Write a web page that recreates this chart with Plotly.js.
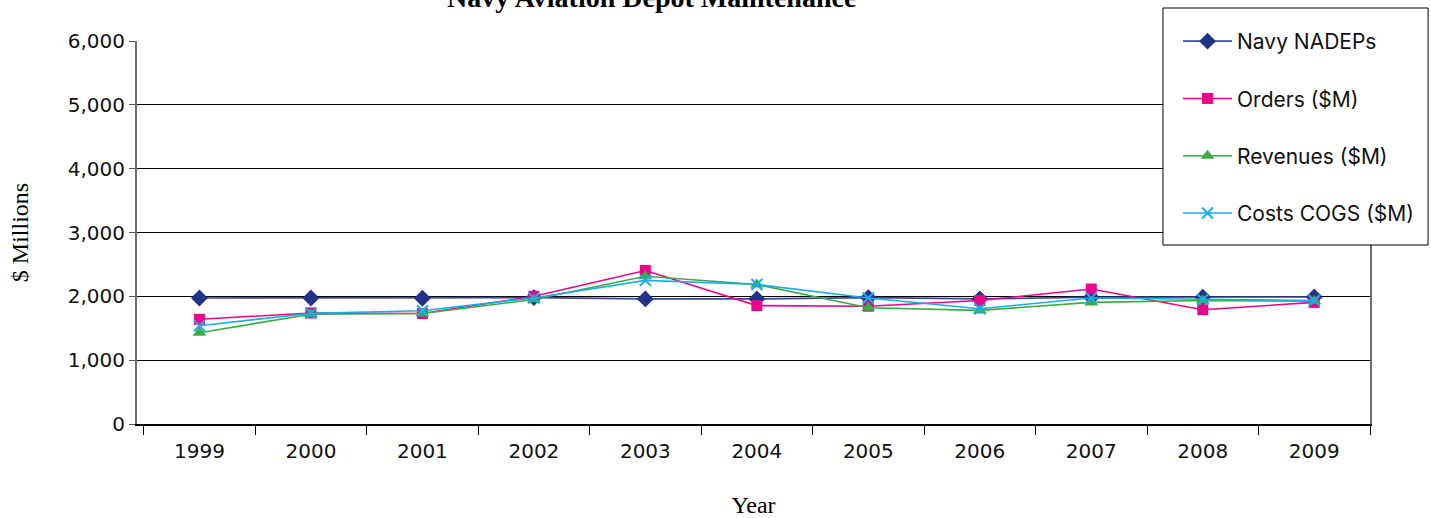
<!DOCTYPE html>
<html>
<head>
<meta charset="utf-8">
<script src="https://cdn.plot.ly/plotly-3.0.1.min.js"></script>
<style>html,body{margin:0;padding:0;background:#fff;}#chart{width:1431px;height:518px;}</style>
</head>
<body>
<div id="chart"></div>
<script>
const years = ['1999','2000','2001','2002','2003','2004','2005','2006','2007','2008','2009'];
const navyNadeps = [1975, 1975, 1970, 1980, 1960, 1960, 1980, 1960, 1985, 1985, 1990];
const orders = [1640, 1740, 1730, 2000, 2405, 1855, 1845, 1935, 2115, 1790, 1905];
const revenues = [1430, 1720, 1730, 1950, 2315, 2185, 1820, 1780, 1905, 1935, 1925];
const costs = [1540, 1735, 1775, 1975, 2250, 2185, 1975, 1805, 1975, 1950, 1935];
const seriesNames = ['Navy NADEPs', 'Orders ($M)', 'Revenues ($M)', 'Costs COGS ($M)'];
const chartTitle = 'Navy Aviation Depot Maintenance';

const mk = (name, y, color, symbol, size, lineColor, group) => ({
  type: 'scatter', mode: 'lines+markers', x: years, y: y, name: name,
  legendgroup: group,
  line: {color: lineColor, width: 1.6},
  marker: {color: color, symbol: symbol, size: size, line: {width: symbol === 'x-thin' ? 2 : 0, color: color}}
});

const traces = [
  mk(seriesNames[0], navyNadeps, '#233189', 'diamond', 13, '#3a4a98', 'a'),
  mk(seriesNames[1], orders, '#E8068C', 'square', 11, '#E8068C', 'b'),
  mk(seriesNames[2], revenues, '#3DAA48', 'triangle-up', 12, '#3DAA48', 'c'),
  mk(seriesNames[3], costs, '#1AADE6', 'x-thin', 11, '#1AADE6', 'd')
];

const layout = {
  width: 1431, height: 518,
  paper_bgcolor: '#ffffff', plot_bgcolor: '#ffffff',
  margin: {l: 137, r: 61, t: 41, b: 94, autoexpand: false},
  annotations: [{
    text: '<b>' + chartTitle + '</b>', showarrow: false,
    xref: 'paper', yref: 'paper', x: 0.4169, y: 1.1123, xanchor: 'center', yanchor: 'middle',
    font: {family: 'Liberation Serif', size: 28, color: '#000'}
  }],
  shapes: [{
    type: 'rect', xref: 'paper', yref: 'paper', layer: 'above',
    x0: 0.8321, x1: 1.0471, y0: 0.4674, y1: 1.0862,
    fillcolor: '#ffffff', line: {color: '#000', width: 1}
  }],
  xaxis: {
    type: 'category', range: [-0.56, 10.5], tickson: 'boundaries', ticks: 'outside', ticklen: 9, tickcolor: '#000', tickwidth: 1,
    showline: true, linecolor: '#000', linewidth: 1.5, showgrid: false, ticklabelstandoff: 8,
    tickfont: {family: 'DejaVu Sans', size: 20, color: '#111'},
    title: {text: 'Year', font: {family: 'Liberation Serif', size: 24, color: '#000'}, standoff: 43}
  },
  yaxis: {
    range: [0, 6000], dtick: 1000, tickformat: ',d', ticks: 'outside', ticklen: 6, tickcolor: '#555',
    showline: true, mirror: true, linecolor: '#707070', linewidth: 2,
    showgrid: true, gridcolor: '#000', gridwidth: 1, zeroline: false,
    tickfont: {family: 'DejaVu Sans', size: 20, color: '#111'},
    title: {text: '$ Millions', font: {family: 'Liberation Serif', size: 24, color: '#000'}, standoff: 32}
  },
  showlegend: true,
  legend: {
    x: 0.8443, xanchor: 'left', y: 1.0522, yanchor: 'top',
    bgcolor: 'rgba(0,0,0,0)', borderwidth: 0,
    font: {family: 'Inter, Liberation Sans', size: 21, color: '#111'},
    traceorder: 'grouped', tracegroupgap: 27, itemwidth: 49
  }
};

Plotly.newPlot('chart', traces, layout, {displayModeBar: false, staticPlot: true});
</script>
</body>
</html>
